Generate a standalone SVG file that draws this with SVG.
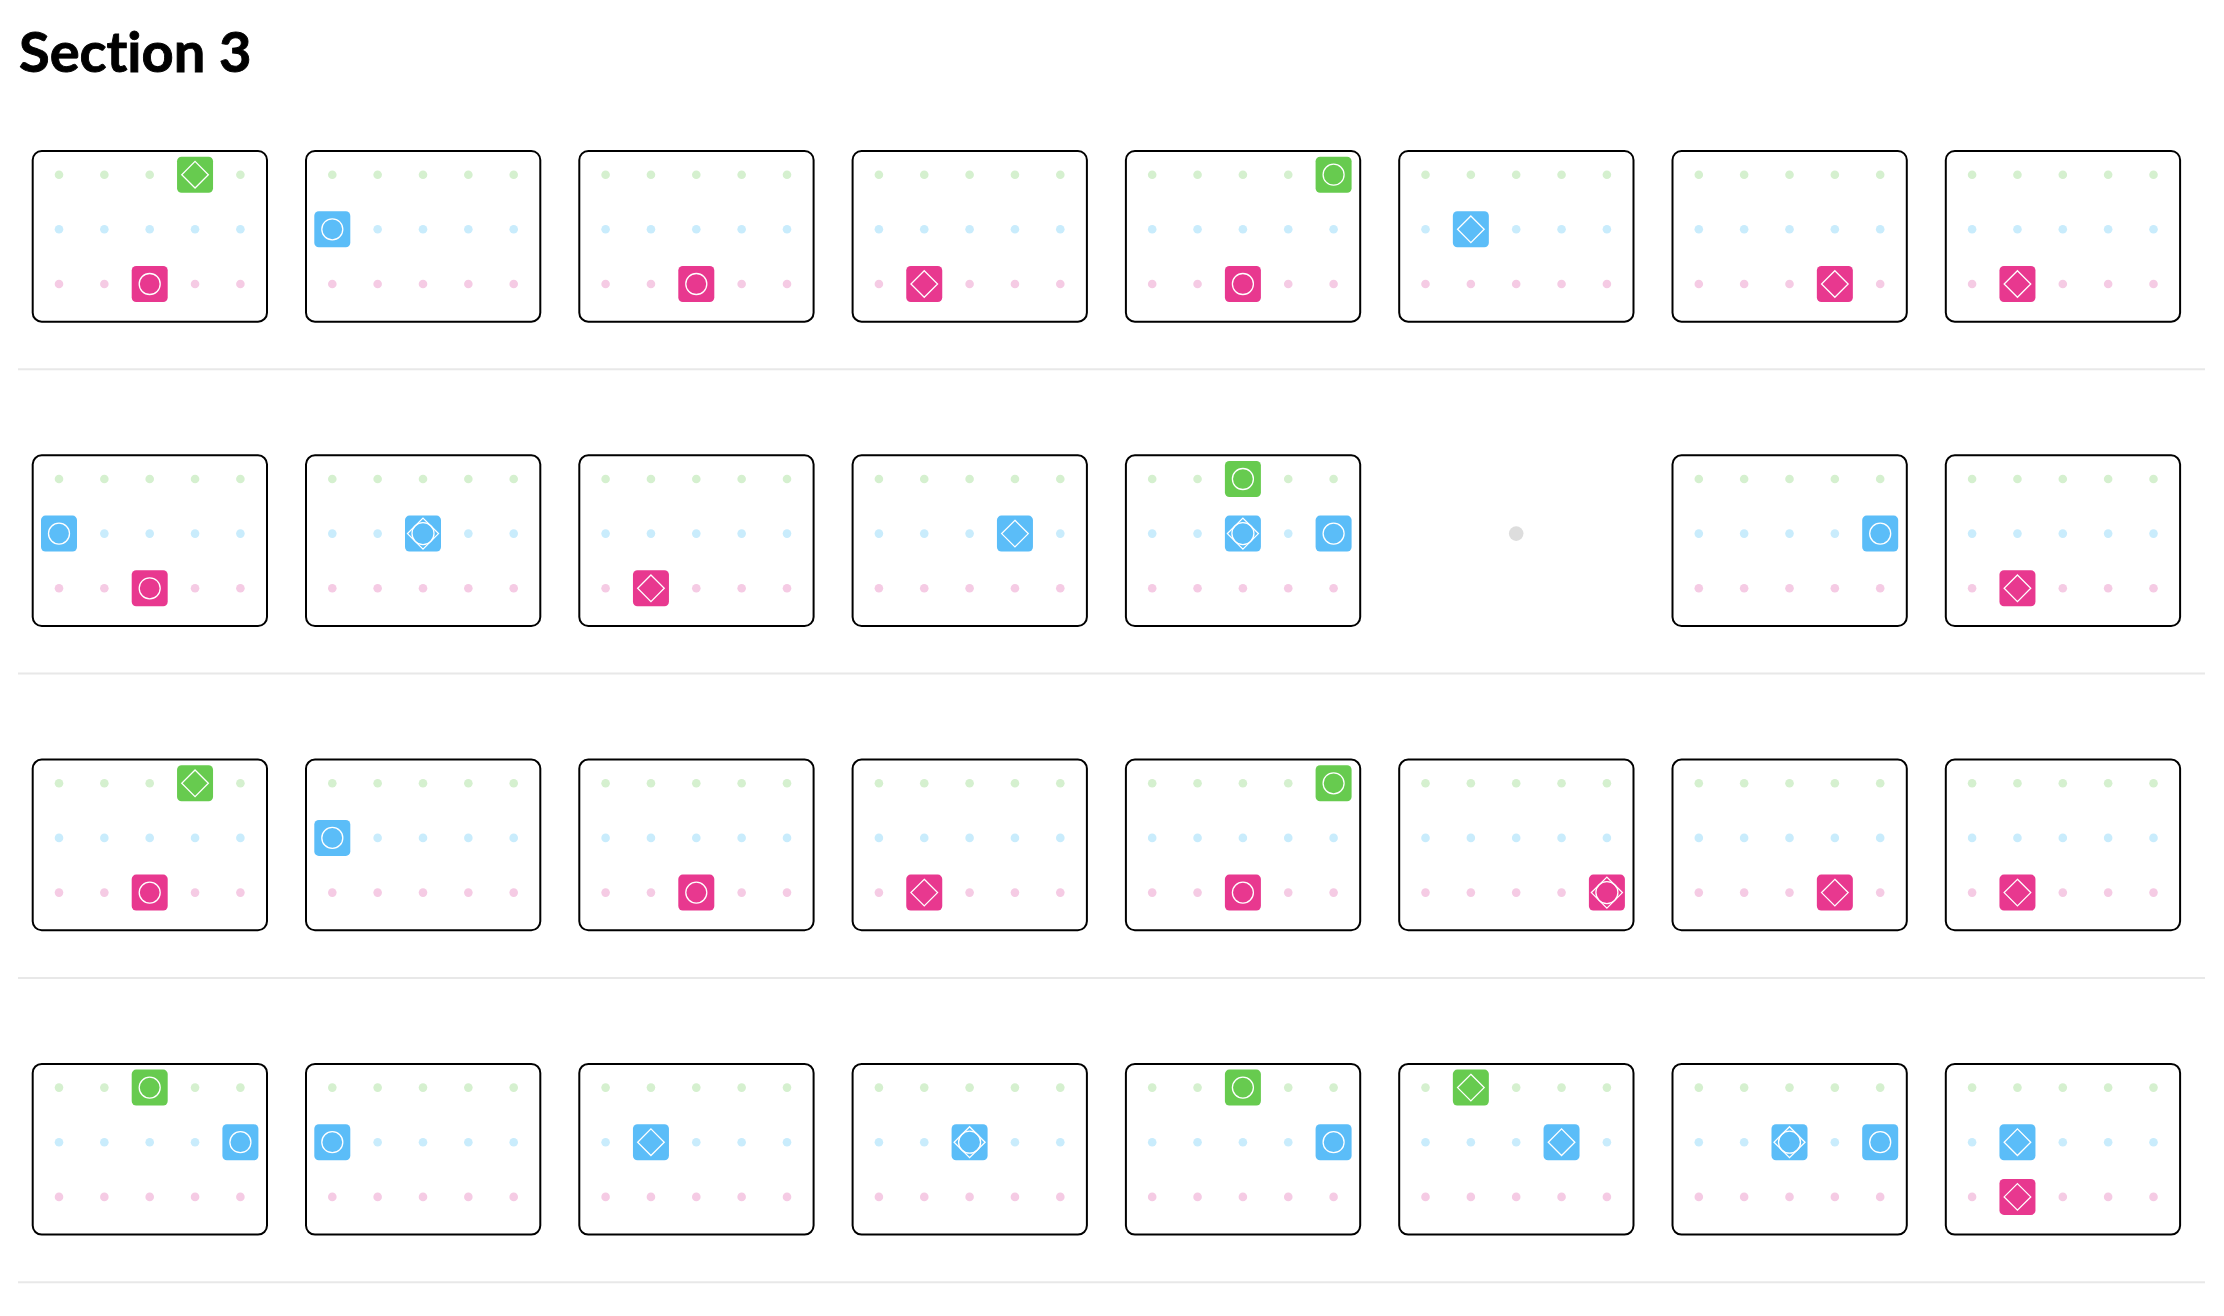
<svg xmlns="http://www.w3.org/2000/svg" xmlns:xlink="http://www.w3.org/1999/xlink" width="2224" height="1316" viewBox="0 0 2224 1316">
<style>
.title{font-family:"Lato","Noto Sans","DejaVu Sans",sans-serif;font-weight:700;font-size:56px;fill:#000;stroke:#000;stroke-width:0.9;font-variant-ligatures:none;font-feature-settings:"liga" 0}
.card{fill:#fff;stroke:#000;stroke-width:2}
.dg{fill:#d5f0cf}.db{fill:#c9ecfc}.dp{fill:#f5cbe4}
.sg{fill:#67cb4f}.sb{fill:#5bbdf8}.sp{fill:#e8388f}
.ic{fill:none;stroke:#fff;stroke-width:1.3}
.sep{stroke:#e8e8e8;stroke-width:2}
</style>
<defs>
<rect id="cardbox" class="card" x="0" y="0" width="234.3" height="170.7" rx="9"/>
<g id="grid">
<circle class="dg" cx="26.3" cy="23.7" r="4.3"/><circle class="dg" cx="71.65" cy="23.7" r="4.3"/><circle class="dg" cx="117" cy="23.7" r="4.3"/><circle class="dg" cx="162.35" cy="23.7" r="4.3"/><circle class="dg" cx="207.7" cy="23.7" r="4.3"/>
<circle class="db" cx="26.3" cy="78.3" r="4.3"/><circle class="db" cx="71.65" cy="78.3" r="4.3"/><circle class="db" cx="117" cy="78.3" r="4.3"/><circle class="db" cx="162.35" cy="78.3" r="4.3"/><circle class="db" cx="207.7" cy="78.3" r="4.3"/>
<circle class="dp" cx="26.3" cy="133" r="4.3"/><circle class="dp" cx="71.65" cy="133" r="4.3"/><circle class="dp" cx="117" cy="133" r="4.3"/><circle class="dp" cx="162.35" cy="133" r="4.3"/><circle class="dp" cx="207.7" cy="133" r="4.3"/>
</g>
<path id="dia" class="ic" d="M0,-13.3 L13.3,0 L0,13.3 L-13.3,0 Z"/>
<circle id="cir" class="ic" r="10.5"/>
<g id="both"><circle class="ic" r="11"/><path class="ic" d="M0,-15.5 L15.5,0 L0,15.5 L-15.5,0 Z"/></g>
<g id="gD"><rect class="sg" x="-18" y="-18" width="36" height="36" rx="4.5"/><use href="#dia"/></g>
<g id="gC"><rect class="sg" x="-18" y="-18" width="36" height="36" rx="4.5"/><use href="#cir"/></g>
<g id="bD"><rect class="sb" x="-18" y="-18" width="36" height="36" rx="4.5"/><use href="#dia"/></g>
<g id="bC"><rect class="sb" x="-18" y="-18" width="36" height="36" rx="4.5"/><use href="#cir"/></g>
<g id="bX"><rect class="sb" x="-18" y="-18" width="36" height="36" rx="4.5"/><use href="#both"/></g>
<g id="pD"><rect class="sp" x="-18" y="-18" width="36" height="36" rx="4.5"/><use href="#dia"/></g>
<g id="pC"><rect class="sp" x="-18" y="-18" width="36" height="36" rx="4.5"/><use href="#cir"/></g>
<g id="pX"><rect class="sp" x="-18" y="-18" width="36" height="36" rx="4.5"/><use href="#both"/></g>
</defs>
<rect width="2224" height="1316" fill="#fff"/>
<text class="title" x="19" y="71.5">Section 3</text>
<g id="separators">
<line class="sep" x1="18" y1="369.3" x2="2205" y2="369.3"/>
<line class="sep" x1="18" y1="673.6" x2="2205" y2="673.6"/>
<line class="sep" x1="18" y1="977.9" x2="2205" y2="977.9"/>
<line class="sep" x1="18" y1="1282.2" x2="2205" y2="1282.2"/>
</g>
<!-- Row 1 -->
<g id="r1c1" transform="translate(32.7,151)"><use href="#cardbox"/><use href="#grid"/><use href="#gD" x="162.35" y="23.7"/><use href="#pC" x="117" y="133"/></g>
<g id="r1c2" transform="translate(306,151)"><use href="#cardbox"/><use href="#grid"/><use href="#bC" x="26.3" y="78.3"/></g>
<g id="r1c3" transform="translate(579.3,151)"><use href="#cardbox"/><use href="#grid"/><use href="#pC" x="117" y="133"/></g>
<g id="r1c4" transform="translate(852.6,151)"><use href="#cardbox"/><use href="#grid"/><use href="#pD" x="71.65" y="133"/></g>
<g id="r1c5" transform="translate(1125.9,151)"><use href="#cardbox"/><use href="#grid"/><use href="#gC" x="207.7" y="23.7"/><use href="#pC" x="117" y="133"/></g>
<g id="r1c6" transform="translate(1399.2,151)"><use href="#cardbox"/><use href="#grid"/><use href="#bD" x="71.65" y="78.3"/></g>
<g id="r1c7" transform="translate(1672.5,151)"><use href="#cardbox"/><use href="#grid"/><use href="#pD" x="162.35" y="133"/></g>
<g id="r1c8" transform="translate(1945.8,151)"><use href="#cardbox"/><use href="#grid"/><use href="#pD" x="71.65" y="133"/></g>
<!-- Row 2 -->
<g id="r2c1" transform="translate(32.7,455.3)"><use href="#cardbox"/><use href="#grid"/><use href="#bC" x="26.3" y="78.3"/><use href="#pC" x="117" y="133"/></g>
<g id="r2c2" transform="translate(306,455.3)"><use href="#cardbox"/><use href="#grid"/><use href="#bX" x="117" y="78.3"/></g>
<g id="r2c3" transform="translate(579.3,455.3)"><use href="#cardbox"/><use href="#grid"/><use href="#pD" x="71.65" y="133"/></g>
<g id="r2c4" transform="translate(852.6,455.3)"><use href="#cardbox"/><use href="#grid"/><use href="#bD" x="162.35" y="78.3"/></g>
<g id="r2c5" transform="translate(1125.9,455.3)"><use href="#cardbox"/><use href="#grid"/><use href="#gC" x="117" y="23.7"/><use href="#bX" x="117" y="78.3"/><use href="#bC" x="207.7" y="78.3"/></g>
<g id="r2c6" transform="translate(1399.2,455.3)"><circle cx="117" cy="78.3" r="7.3" fill="#dddddd"/></g>
<g id="r2c7" transform="translate(1672.5,455.3)"><use href="#cardbox"/><use href="#grid"/><use href="#bC" x="207.7" y="78.3"/></g>
<g id="r2c8" transform="translate(1945.8,455.3)"><use href="#cardbox"/><use href="#grid"/><use href="#pD" x="71.65" y="133"/></g>
<!-- Row 3 -->
<g id="r3c1" transform="translate(32.7,759.6)"><use href="#cardbox"/><use href="#grid"/><use href="#gD" x="162.35" y="23.7"/><use href="#pC" x="117" y="133"/></g>
<g id="r3c2" transform="translate(306,759.6)"><use href="#cardbox"/><use href="#grid"/><use href="#bC" x="26.3" y="78.3"/></g>
<g id="r3c3" transform="translate(579.3,759.6)"><use href="#cardbox"/><use href="#grid"/><use href="#pC" x="117" y="133"/></g>
<g id="r3c4" transform="translate(852.6,759.6)"><use href="#cardbox"/><use href="#grid"/><use href="#pD" x="71.65" y="133"/></g>
<g id="r3c5" transform="translate(1125.9,759.6)"><use href="#cardbox"/><use href="#grid"/><use href="#gC" x="207.7" y="23.7"/><use href="#pC" x="117" y="133"/></g>
<g id="r3c6" transform="translate(1399.2,759.6)"><use href="#cardbox"/><use href="#grid"/><use href="#pX" x="207.7" y="133"/></g>
<g id="r3c7" transform="translate(1672.5,759.6)"><use href="#cardbox"/><use href="#grid"/><use href="#pD" x="162.35" y="133"/></g>
<g id="r3c8" transform="translate(1945.8,759.6)"><use href="#cardbox"/><use href="#grid"/><use href="#pD" x="71.65" y="133"/></g>
<!-- Row 4 -->
<g id="r4c1" transform="translate(32.7,1063.9)"><use href="#cardbox"/><use href="#grid"/><use href="#gC" x="117" y="23.7"/><use href="#bC" x="207.7" y="78.3"/></g>
<g id="r4c2" transform="translate(306,1063.9)"><use href="#cardbox"/><use href="#grid"/><use href="#bC" x="26.3" y="78.3"/></g>
<g id="r4c3" transform="translate(579.3,1063.9)"><use href="#cardbox"/><use href="#grid"/><use href="#bD" x="71.65" y="78.3"/></g>
<g id="r4c4" transform="translate(852.6,1063.9)"><use href="#cardbox"/><use href="#grid"/><use href="#bX" x="117" y="78.3"/></g>
<g id="r4c5" transform="translate(1125.9,1063.9)"><use href="#cardbox"/><use href="#grid"/><use href="#gC" x="117" y="23.7"/><use href="#bC" x="207.7" y="78.3"/></g>
<g id="r4c6" transform="translate(1399.2,1063.9)"><use href="#cardbox"/><use href="#grid"/><use href="#gD" x="71.65" y="23.7"/><use href="#bD" x="162.35" y="78.3"/></g>
<g id="r4c7" transform="translate(1672.5,1063.9)"><use href="#cardbox"/><use href="#grid"/><use href="#bX" x="117" y="78.3"/><use href="#bC" x="207.7" y="78.3"/></g>
<g id="r4c8" transform="translate(1945.8,1063.9)"><use href="#cardbox"/><use href="#grid"/><use href="#bD" x="71.65" y="78.3"/><use href="#pD" x="71.65" y="133"/></g>
</svg>
